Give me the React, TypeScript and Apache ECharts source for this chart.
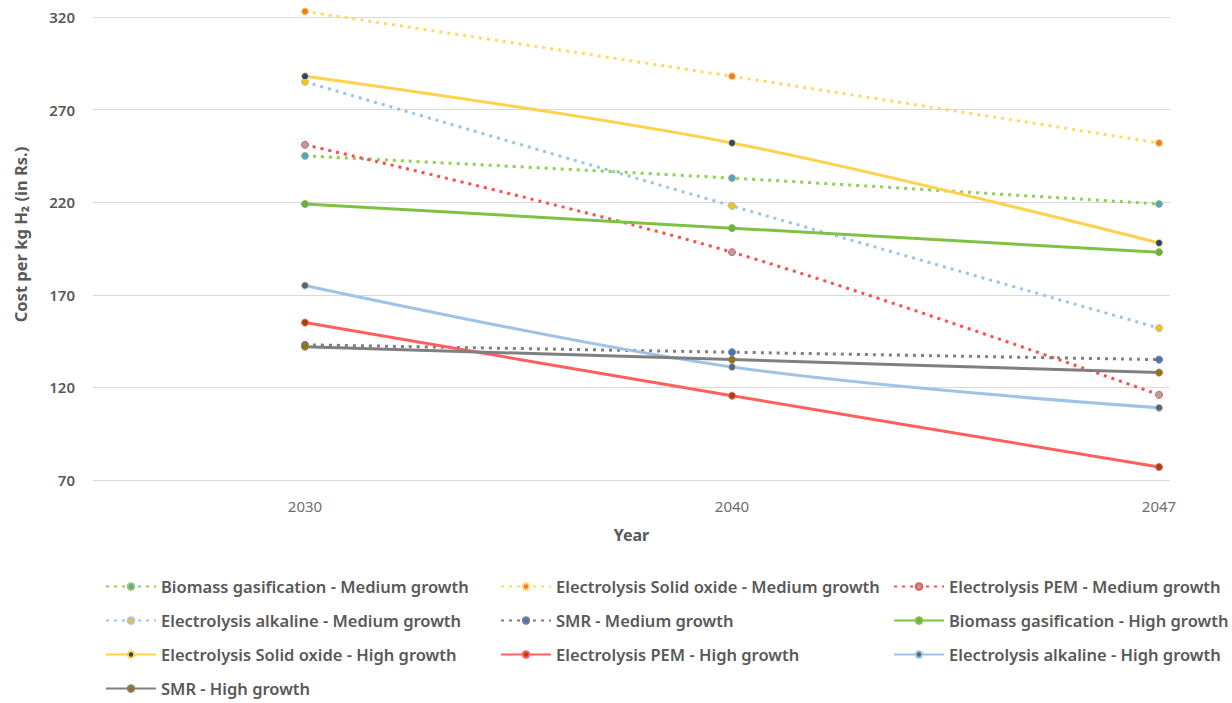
import React, { useEffect, useRef } from "react";
import * as echarts from "echarts";

// Years on the horizontal axis
const years = ["2030", "2040", "2047"];

// Cost per kg of hydrogen (Rs.)
const biomassMedium = [245, 233, 219];
const solidOxideMedium = [323, 288, 252];
const pemMedium = [251, 193, 116];
const alkalineMedium = [285, 218, 152];
const smrMedium = [143, 139, 135];
const biomassHigh = [219, 206, 193];
const solidOxideHigh = [288, 252, 198];
const pemHigh = [155, 115.5, 77];
const alkalineHigh = [175, 131, 109];
const smrHigh = [142, 135, 128];

const yTicks = [70, 120, 170, 220, 270, 320];

const FONT = "'Noto Sans', 'Open Sans', sans-serif";
const TEXT = "#595959";

type Def = {
  name: string;
  values: number[];
  line: string;
  marker: string;
  dotted: boolean;
};

const defs: Def[] = [
  { name: "Biomass gasification - Medium growth", values: biomassMedium, line: "#8FD053", marker: "#5B9BD5", dotted: true },
  { name: "Electrolysis Solid oxide - Medium growth", values: solidOxideMedium, line: "#FFD966", marker: "#ED7D31", dotted: true },
  { name: "Electrolysis PEM - Medium growth", values: pemMedium, line: "#FF4D4D", marker: "#A5A5A5", dotted: true },
  { name: "Electrolysis alkaline - Medium growth", values: alkalineMedium, line: "#9DC3E6", marker: "#FFC000", dotted: true },
  { name: "SMR - Medium growth", values: smrMedium, line: "#7F7F7F", marker: "#4472C4", dotted: true },
  { name: "Biomass gasification - High growth", values: biomassHigh, line: "#7DC242", marker: "#70AD47", dotted: false },
  { name: "Electrolysis Solid oxide - High growth", values: solidOxideHigh, line: "#FFD24D", marker: "#264478", dotted: false },
  { name: "Electrolysis PEM - High growth", values: pemHigh, line: "#FF5F5F", marker: "#9E480E", dotted: false },
  { name: "Electrolysis alkaline - High growth", values: alkalineHigh, line: "#9DC3E6", marker: "#636363", dotted: false },
  { name: "SMR - High growth", values: smrHigh, line: "#7F7F7F", marker: "#997300", dotted: false },
];

// Legend laid out in three columns, filled row by row
const legendColumns = [
  [defs[0].name, defs[3].name, defs[6].name, defs[9].name],
  [defs[1].name, defs[4].name, defs[7].name],
  [defs[2].name, defs[5].name, defs[8].name],
];
const legendLefts = [105, 500, 893];

export default function App() {
  const ref = useRef<HTMLDivElement>(null);

  useEffect(() => {
    document.body.style.margin = "0";
    if (!ref.current) return;
    const chart = echarts.init(ref.current, undefined, { renderer: "svg" });

    const series = defs.map((d) => ({
      name: d.name,
      type: "line",
      smooth: 0.35,
      clip: false,
      data: years.map((_, i) => [i, d.values[i]]),
      symbol: "circle",
      symbolSize: 7,
      lineStyle: {
        color: d.line,
        width: 3,
        type: d.dotted ? [3, 5] : "solid",
      },
      itemStyle: {
        color: d.marker,
        borderColor: d.line,
        borderWidth: 1,
      },
      emphasis: { disabled: true },
    }));

    chart.setOption({
      animation: false,
      grid: { left: 93, right: 62, top: 17, bottom: 223, containLabel: false },
      xAxis: {
        type: "value",
        min: -0.4965,
        max: 2.0257,
        name: "Year",
        nameLocation: "middle",
        nameGap: 47,
        nameTextStyle: { fontFamily: FONT, fontSize: 16, fontWeight: "bold", color: TEXT },
        axisLine: { show: false },
        axisTick: { show: false },
        splitLine: { show: false },
        axisLabel: {
          customValues: [0, 1, 2],
          formatter: (v: number) => years[Math.round(v)] ?? "",
          margin: 18,
          fontFamily: FONT,
          fontSize: 15,
          color: "#6E6E6E",
        },
      },
      yAxis: {
        type: "value",
        min: yTicks[0],
        max: yTicks[yTicks.length - 1],
        interval: 50,
        name: "Cost per kg H\u2082 (in Rs.)",
        nameLocation: "middle",
        nameRotate: 90,
        nameGap: 64,
        nameTextStyle: {
          fontFamily: FONT,
          fontSize: 16.5,
          fontWeight: "bold",
          color: TEXT,
          padding: [0, 0, 0, 28],
        },
        axisLine: { show: false },
        axisTick: { show: false },
        splitLine: { lineStyle: { color: "#D9D9D9", width: 1 } },
        axisLabel: { margin: 18, fontFamily: FONT, fontSize: 15, fontWeight: 600, color: TEXT },
      },
      legend: legendColumns.map((col, i) => ({
        data: col,
        orient: "vertical",
        left: legendLefts[i],
        top: 578,
        height: 125,
        padding: 0,
        itemWidth: 50,
        itemHeight: 8,
        itemGap: 17,
        textStyle: { fontFamily: FONT, fontSize: 16.5, fontWeight: 600, color: TEXT },
        selectedMode: false,
      })),
      series,
    });

    return () => chart.dispose();
  }, []);

  return <div ref={ref} style={{ width: 1232, height: 703 }} />;
}
